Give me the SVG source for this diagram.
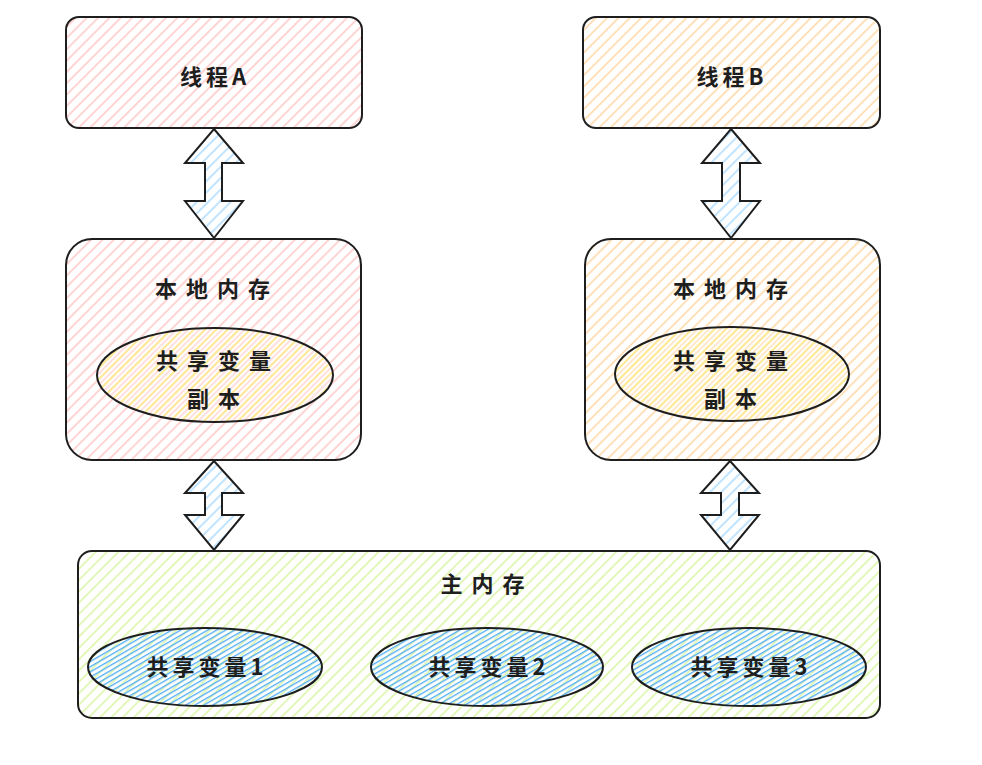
<svg xmlns="http://www.w3.org/2000/svg" width="982" height="765" viewBox="0 0 982 765">
<defs>
<pattern id="hPink" width="8" height="8" patternUnits="userSpaceOnUse" patternTransform="rotate(45)"><line x1="2" y1="0" x2="2" y2="8" stroke="#ffc9c9" stroke-width="1.6"/></pattern>
<pattern id="hOrange" width="8" height="8" patternUnits="userSpaceOnUse" patternTransform="rotate(45)"><line x1="2" y1="0" x2="2" y2="8" stroke="#ffd8a8" stroke-width="1.6"/></pattern>
<pattern id="hYellow" width="8" height="8" patternUnits="userSpaceOnUse" patternTransform="rotate(45)"><line x1="2" y1="0" x2="2" y2="8" stroke="#ffec99" stroke-width="2"/><line x1="6" y1="0" x2="6" y2="8" stroke="#ffc9c9" stroke-width="1.2"/></pattern>
<pattern id="hYellowB" width="8" height="8" patternUnits="userSpaceOnUse" patternTransform="rotate(45)"><line x1="2" y1="0" x2="2" y2="8" stroke="#ffec99" stroke-width="2"/><line x1="6" y1="0" x2="6" y2="8" stroke="#ffd8a8" stroke-width="1.2"/></pattern>
<pattern id="hBlueL" width="8" height="8" patternUnits="userSpaceOnUse" patternTransform="rotate(45)"><line x1="2" y1="0" x2="2" y2="8" stroke="#a5d8ff" stroke-width="1.4"/></pattern>
<pattern id="hGreen" width="8" height="8" patternUnits="userSpaceOnUse" patternTransform="rotate(45)"><line x1="2" y1="0" x2="2" y2="8" stroke="#d8f5a2" stroke-width="1.5"/></pattern>
<pattern id="hBlue" width="4.5" height="4.5" patternUnits="userSpaceOnUse" patternTransform="rotate(60)"><line x1="1.5" y1="0" x2="1.5" y2="4.5" stroke="#4dabf7" stroke-width="1.3"/></pattern>
</defs>
<style>
.box{stroke:#1e1e1e;stroke-width:2;stroke-linejoin:round}
.ell{stroke:#1e1e1e;stroke-width:2}
.arr{stroke:#1e1e1e;stroke-width:2;stroke-linejoin:miter;fill:url(#hBlueL)}
text{font-family:"Noto Sans CJK SC","Noto Sans",sans-serif;font-size:22px;fill:#1e1e1e;text-anchor:middle;dominant-baseline:central;font-weight:bold}
.sp{letter-spacing:9px}
.sp2{letter-spacing:4px}
</style>
<rect width="982" height="765" fill="#ffffff"/>
<g id="connectors">
<path class="arr" d="M214,129 L243,163 L222,163 L222,201 L243,201 L214,238 L185,201 L205,201 L205,163 L185,163 Z"/>
<path class="arr" d="M731,129 L760,163 L740,163 L740,201 L760,201 L731,238 L702,201 L722,201 L722,163 L702,163 Z"/>
<path class="arr" d="M214,461 L243,493 L222,493 L222,515 L243,515 L214,550 L185,515 L205,515 L205,493 L185,493 Z"/>
<path class="arr" d="M730,461 L759,493 L739,493 L739,515 L759,515 L730,550 L701,515 L721,515 L721,493 L701,493 Z"/>
</g>
<g id="threadA">
<rect class="box" x="66" y="17" width="296" height="111" rx="13" fill="url(#hPink)"/>
<text class="sp2" x="215" y="75">线程A</text>
</g>
<g id="threadB">
<rect class="box" x="583" y="17" width="297" height="111" rx="13" fill="url(#hOrange)"/>
<text class="sp2" x="732" y="75">线程B</text>
</g>
<g id="localA">
<rect class="box" x="66" y="239" width="295" height="221" rx="26" fill="url(#hPink)"/>
<text class="sp" x="217" y="287">本地内存</text>
</g>
<g id="copyA">
<ellipse class="ell" cx="215" cy="375" rx="118" ry="47" fill="url(#hYellow)"/>
<text class="sp" x="218" y="359">共享变量</text>
<text class="sp" x="218" y="397">副本</text>
</g>
<g id="localB">
<rect class="box" x="585" y="239" width="295" height="221" rx="26" fill="url(#hOrange)"/>
<text class="sp" x="735" y="287">本地内存</text>
</g>
<g id="copyB">
<ellipse class="ell" cx="732" cy="374" rx="117" ry="47" fill="url(#hYellowB)"/>
<text class="sp" x="735" y="359">共享变量</text>
<text class="sp" x="735" y="397">副本</text>
</g>
<g id="mainMemory">
<rect class="box" x="78" y="551" width="802" height="167" rx="14" fill="url(#hGreen)"/>
<text class="sp" x="487" y="582">主内存</text>
</g>
<g id="var1">
<ellipse class="ell" cx="205" cy="667" rx="117" ry="39" fill="url(#hBlue)"/>
<text class="sp2" x="207" y="665">共享变量1</text>
</g>
<g id="var2">
<ellipse class="ell" cx="487" cy="667" rx="116" ry="39" fill="url(#hBlue)"/>
<text class="sp2" x="489" y="665">共享变量2</text>
</g>
<g id="var3">
<ellipse class="ell" cx="749" cy="667" rx="117" ry="39" fill="url(#hBlue)"/>
<text class="sp2" x="751" y="665">共享变量3</text>
</g>
</svg>
